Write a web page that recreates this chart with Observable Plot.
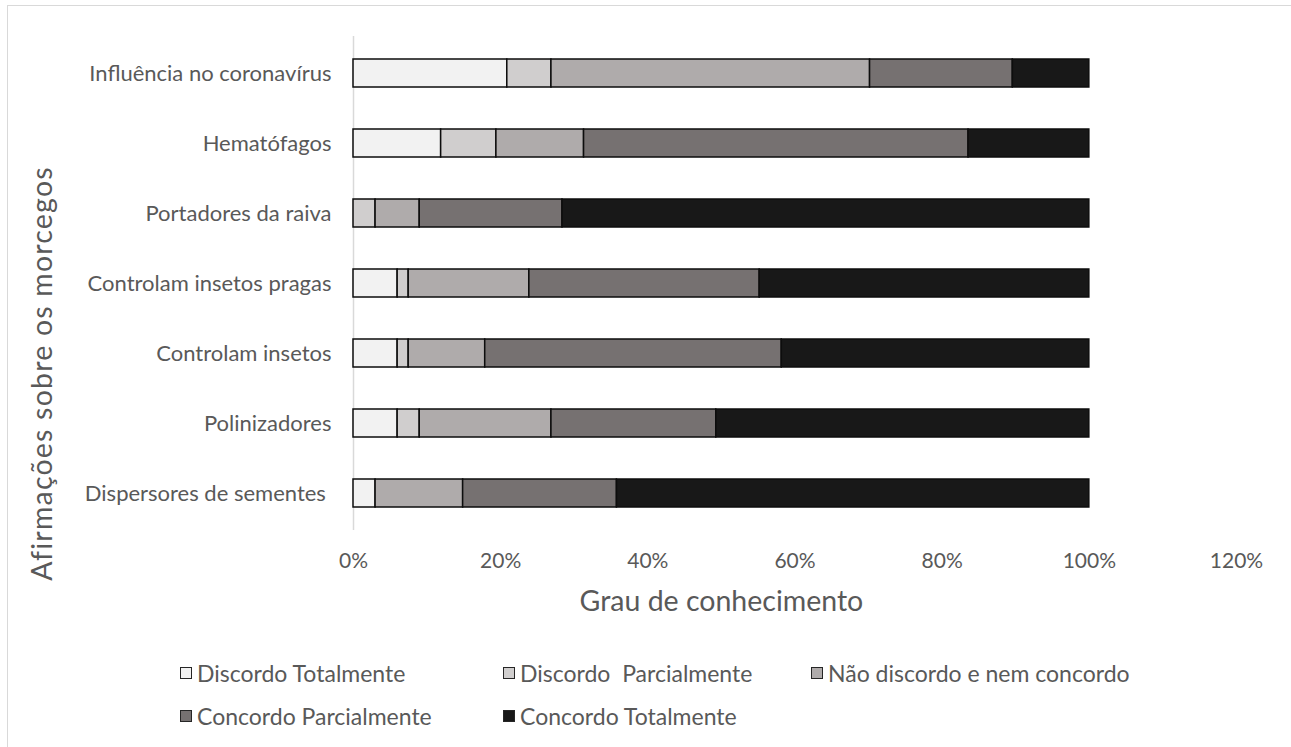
<!DOCTYPE html>
<html>
<head>
<meta charset="utf-8">
<script src="https://cdn.jsdelivr.net/npm/d3@7"></script>
<script src="https://cdn.jsdelivr.net/npm/@observablehq/plot@0.6"></script>
<style>
  html, body { margin: 0; padding: 0; background: #fff; overflow: hidden; }
  body { width: 1291px; height: 747px; position: relative; font-family: Lato, "Open Sans", sans-serif; }
  #frame { position: absolute; left: 7px; top: 5px; width: 1320px; height: 800px; border: 1.5px solid #d9d9d9; box-sizing: border-box; }
  #chart { position: absolute; left: 0; top: 0; }
  #legend { position: absolute; left: 0; top: 0; width: 1291px; height: 747px; pointer-events: none; }
  .item { position: absolute; display: flex; align-items: center; font-size: 23px; color: #595959; white-space: pre; transform: translateY(-50%); }
  .swatch { width: 10px; height: 10px; border: 1.5px solid #262626; margin-right: 5px; }
  .y-title text { letter-spacing: 1.2px; }
</style>
</head>
<body>
<div id="frame"></div>
<div id="chart"></div>
<div id="legend"></div>
<script>
// Statements about bats, listed top to bottom
const statements = [
  "Influência no coronavírus",
  "Hematófagos",
  "Portadores da raiva",
  "Controlam insetos pragas",
  "Controlam insetos",
  "Polinizadores",
  "Dispersores de sementes\u00a0"
];

// Likert responses and their grey ramp
const responses = [
  "Discordo Totalmente",
  "Discordo  Parcialmente",
  "Não discordo e nem concordo",
  "Concordo Parcialmente",
  "Concordo Totalmente"
];
const colors = ["#f2f2f2", "#d0cece", "#afabab", "#767171", "#181818"];

// Share of answers (%) per statement, same order as statements
const discordoTotalmente     = [20.9, 11.9,  0.0,  6.0,  6.0,  6.0,  3.0];
const discordoParcialmente   = [ 6.0,  7.5,  3.0,  1.5,  1.5,  3.0,  0.0];
const naoDiscordoNemConcordo = [43.3, 11.9,  6.0, 16.4, 10.4, 17.9, 11.9];
const concordoParcialmente   = [19.4, 52.2, 19.4, 31.3, 40.3, 22.4, 20.9];
const concordoTotalmente     = [10.4, 16.4, 71.6, 44.8, 41.8, 50.7, 64.2];

const xTicks = [0, 0.2, 0.4, 0.6, 0.8, 1.0, 1.2];

const series = [discordoTotalmente, discordoParcialmente, naoDiscordoNemConcordo, concordoParcialmente, concordoTotalmente];
const rows = [];
series.forEach((vals, j) => vals.forEach((v, i) => {
  if (v > 0) rows.push({statement: statements[i], response: responses[j], value: v});
}));

const textColor = "#595959";
const pct = d3.format(".0%");

const chart = Plot.plot({
  width: 1291,
  height: 640,
  marginLeft: 353,
  marginRight: 55,
  marginTop: 36,
  marginBottom: 110,
  style: {fontFamily: "Lato, 'Open Sans', sans-serif", background: "transparent"},
  x: {domain: [0, 1.2]},
  y: {domain: statements, paddingInner: 0.6, paddingOuter: 0.3},
  color: {domain: responses, range: colors},
  marks: [
    Plot.ruleX([0], {stroke: "#d9d9d9", strokeWidth: 1.5}),
    Plot.barX(rows, Plot.stackX({
      x: "value", y: "statement", fill: "response",
      order: responses, offset: "normalize",
      stroke: "#0d0d0d", strokeWidth: 1.5
    })),
    Plot.axisY({tickSize: 0, tickPadding: 22, fontSize: 22, fill: textColor, label: null}),
    Plot.axisX({ticks: xTicks, tickFormat: pct, tickSize: 0, tickPadding: 23, fontSize: 21, fill: textColor, label: null}),
    Plot.text(["Grau de conhecimento"], {x: 0.5, frameAnchor: "bottom", textAnchor: "middle", dy: 80, fontSize: 28.5, fill: textColor}),
    Plot.text(["Afirmações sobre os morcegos"], {frameAnchor: "left", textAnchor: "middle", dx: -311, dy: 90, rotate: -90, fontSize: 28.5, fill: textColor, className: "y-title"})
  ]
});
document.getElementById("chart").appendChild(chart);

// Legend: two rows under the chart
const legendPos = [[180, 673], [503, 673], [811, 673], [180, 716], [503, 716]];
const legend = document.getElementById("legend");
responses.forEach((r, i) => {
  const item = document.createElement("div");
  item.className = "item";
  item.style.left = legendPos[i][0] + "px";
  item.style.top = legendPos[i][1] + "px";
  const sw = document.createElement("span");
  sw.className = "swatch";
  sw.style.background = colors[i];
  item.appendChild(sw);
  item.appendChild(document.createTextNode(r));
  legend.appendChild(item);
});
</script>
</body>
</html>
